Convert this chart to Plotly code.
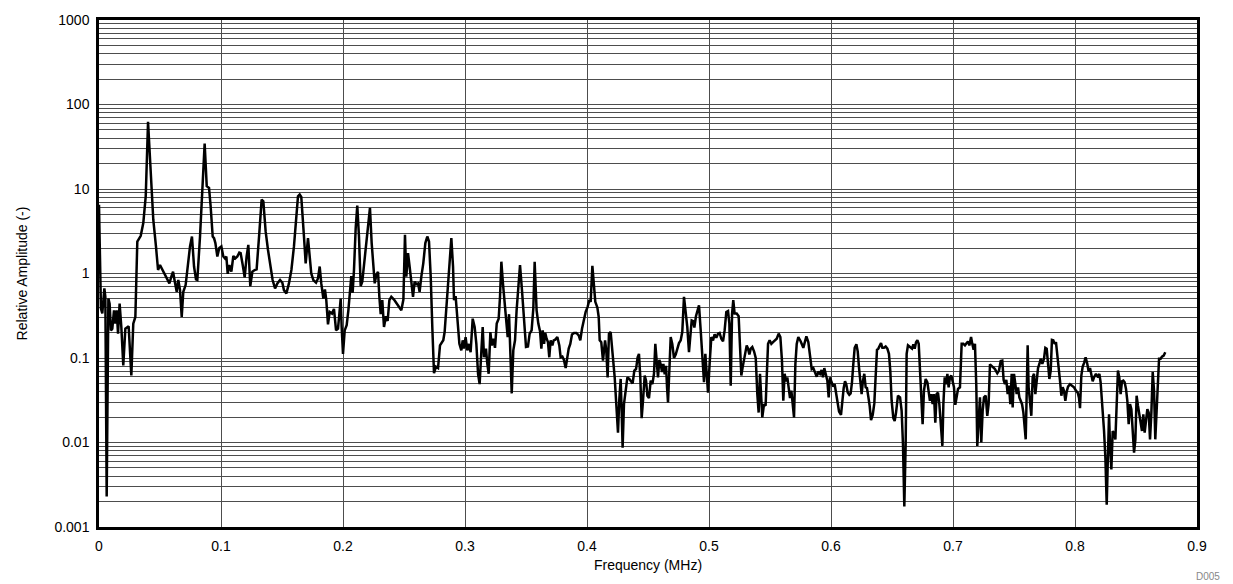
import plotly.graph_objects as go

# Frequency bins (MHz) and relative amplitude of the spectrum
freq_mhz = [
    0.0, 0.0016, 0.0027, 0.0044, 0.0052, 0.0063, 0.0077, 0.0087, 0.0098, 0.0109,
    0.0123, 0.0134, 0.0145, 0.0156, 0.0169, 0.0183, 0.0199, 0.0216, 0.0243, 0.0265,
    0.0281, 0.0298, 0.0314, 0.0342, 0.0363, 0.0383, 0.0402, 0.0423, 0.0445, 0.0467,
    0.0484, 0.0500, 0.0519, 0.0538, 0.0560, 0.0577, 0.0593, 0.0607, 0.0620, 0.0637,
    0.0650, 0.0664, 0.0678, 0.0691, 0.0710, 0.0730, 0.0746, 0.0762, 0.0779, 0.0795,
    0.0806, 0.0828, 0.0847, 0.0866, 0.0883, 0.0902, 0.0915, 0.0932, 0.0943, 0.0954,
    0.0970, 0.0986, 0.1003, 0.1019, 0.1033, 0.1044, 0.1055, 0.1068, 0.1085, 0.1101,
    0.1117, 0.1134, 0.1150, 0.1161, 0.1178, 0.1194, 0.1210, 0.1224, 0.1240, 0.1257,
    0.1276, 0.1292, 0.1314, 0.1333, 0.1347, 0.1366, 0.1385, 0.1407, 0.1423, 0.1443,
    0.1462, 0.1484, 0.1503, 0.1516, 0.1536, 0.1557, 0.1577, 0.1598, 0.1615, 0.1631,
    0.1645, 0.1658, 0.1680, 0.1694, 0.1713, 0.1727, 0.1740, 0.1757, 0.1779, 0.1795,
    0.1809, 0.1822, 0.1839, 0.1852, 0.1863, 0.1877, 0.1891, 0.1910, 0.1926, 0.1943,
    0.1959, 0.1970, 0.1981, 0.1989, 0.2000, 0.2014, 0.2030, 0.2044, 0.2057, 0.2068,
    0.2079, 0.2090, 0.2104, 0.2117, 0.2131, 0.2145, 0.2158, 0.2172, 0.2189, 0.2202,
    0.2221, 0.2235, 0.2246, 0.2260, 0.2273, 0.2287, 0.2298, 0.2309, 0.2322, 0.2336,
    0.2352, 0.2366, 0.2380, 0.2396, 0.2418, 0.2437, 0.2456, 0.2478, 0.2495, 0.2508,
    0.2519, 0.2533, 0.2546, 0.2560, 0.2574, 0.2587, 0.2601, 0.2615, 0.2628, 0.2642,
    0.2658, 0.2675, 0.2691, 0.2705, 0.2719, 0.2732, 0.2746, 0.2762, 0.2779, 0.2795,
    0.2809, 0.2822, 0.2833, 0.2850, 0.2869, 0.2888, 0.2902, 0.2910, 0.2923, 0.2937,
    0.2954, 0.2970, 0.2981, 0.2992, 0.3005, 0.3019, 0.3033, 0.3046, 0.3063, 0.3079,
    0.3093, 0.3107, 0.3120, 0.3134, 0.3145, 0.3156, 0.3172, 0.3183, 0.3194, 0.3208,
    0.3219, 0.3232, 0.3246, 0.3260, 0.3276, 0.3287, 0.3298, 0.3311, 0.3325, 0.3339,
    0.3350, 0.3361, 0.3372, 0.3383, 0.3396, 0.3410, 0.3423, 0.3437, 0.3451, 0.3467,
    0.3484, 0.3500, 0.3516, 0.3530, 0.3546, 0.3560, 0.3571, 0.3587, 0.3601, 0.3615,
    0.3626, 0.3637, 0.3648, 0.3658, 0.3669, 0.3680, 0.3691, 0.3702, 0.3716, 0.3727,
    0.3740, 0.3757, 0.3773, 0.3784, 0.3798, 0.3811, 0.3825, 0.3836, 0.3850, 0.3863,
    0.3877, 0.3893, 0.3913, 0.3932, 0.3945, 0.3959, 0.3975, 0.3989, 0.4005, 0.4019,
    0.4030, 0.4044, 0.4068, 0.4085, 0.4096, 0.4104, 0.4117, 0.4131, 0.4148, 0.4158,
    0.4169, 0.4180, 0.4194, 0.4208, 0.4227, 0.4240, 0.4254, 0.4265, 0.4276, 0.4284,
    0.4292, 0.4303, 0.4317, 0.4331, 0.4347, 0.4361, 0.4374, 0.4388, 0.4402, 0.4415,
    0.4426, 0.4437, 0.4448, 0.4459, 0.4473, 0.4484, 0.4495, 0.4508, 0.4522, 0.4536,
    0.4549, 0.4560, 0.4571, 0.4582, 0.4593, 0.4604, 0.4615, 0.4626, 0.4637, 0.4648,
    0.4656, 0.4664, 0.4675, 0.4686, 0.4699, 0.4713, 0.4727, 0.4740, 0.4754, 0.4768,
    0.4781, 0.4795, 0.4809, 0.4822, 0.4836, 0.4847, 0.4858, 0.4869, 0.4880, 0.4893,
    0.4910, 0.4918, 0.4932, 0.4945, 0.4959, 0.4970, 0.4981, 0.4992, 0.5005, 0.5019,
    0.5033, 0.5046, 0.5060, 0.5074, 0.5087, 0.5101, 0.5115, 0.5128, 0.5142, 0.5156,
    0.5167, 0.5178, 0.5189, 0.5199, 0.5210, 0.5227, 0.5243, 0.5254, 0.5265, 0.5276,
    0.5287, 0.5301, 0.5309, 0.5320, 0.5331, 0.5342, 0.5355, 0.5369, 0.5383, 0.5396,
    0.5407, 0.5418, 0.5429, 0.5437, 0.5451, 0.5464, 0.5473, 0.5484, 0.5497, 0.5511,
    0.5525, 0.5538, 0.5555, 0.5571, 0.5585, 0.5598, 0.5609, 0.5620, 0.5631, 0.5642,
    0.5653, 0.5664, 0.5675, 0.5686, 0.5697, 0.5708, 0.5719, 0.5732, 0.5751, 0.5773,
    0.5798, 0.5814, 0.5828, 0.5842, 0.5855, 0.5869, 0.5883, 0.5896, 0.5910, 0.5923,
    0.5934, 0.5945, 0.5959, 0.5970, 0.5981, 0.5992, 0.6005, 0.6019, 0.6030, 0.6041,
    0.6052, 0.6066, 0.6082, 0.6093, 0.6104, 0.6115, 0.6126, 0.6137, 0.6150, 0.6161,
    0.6172, 0.6183, 0.6194, 0.6208, 0.6219, 0.6230, 0.6240, 0.6251, 0.6262, 0.6273,
    0.6284, 0.6295, 0.6306, 0.6317, 0.6328, 0.6342, 0.6355, 0.6366, 0.6377, 0.6388,
    0.6399, 0.6410, 0.6421, 0.6434, 0.6448, 0.6462, 0.6475, 0.6486, 0.6497, 0.6511,
    0.6522, 0.6533, 0.6549, 0.6566, 0.6579, 0.6590, 0.6601, 0.6612, 0.6620, 0.6631,
    0.6648, 0.6664, 0.6675, 0.6686, 0.6697, 0.6708, 0.6719, 0.6730, 0.6740, 0.6751,
    0.6762, 0.6776, 0.6790, 0.6801, 0.6811, 0.6822, 0.6833, 0.6844, 0.6855, 0.6866,
    0.6877, 0.6888, 0.6899, 0.6913, 0.6921, 0.6932, 0.6943, 0.6954, 0.6964, 0.6975,
    0.6986, 0.6997, 0.7008, 0.7019, 0.7030, 0.7041, 0.7057, 0.7071, 0.7085, 0.7098,
    0.7112, 0.7123, 0.7134, 0.7148, 0.7158, 0.7169, 0.7180, 0.7191, 0.7199, 0.7210,
    0.7221, 0.7232, 0.7243, 0.7254, 0.7268, 0.7281, 0.7292, 0.7303, 0.7317, 0.7331,
    0.7344, 0.7363, 0.7377, 0.7391, 0.7404, 0.7415, 0.7426, 0.7437, 0.7448, 0.7459,
    0.7470, 0.7481, 0.7489, 0.7500, 0.7511, 0.7522, 0.7533, 0.7544, 0.7555, 0.7566,
    0.7577, 0.7587, 0.7596, 0.7604, 0.7612, 0.7620, 0.7631, 0.7642, 0.7653, 0.7664,
    0.7675, 0.7686, 0.7697, 0.7708, 0.7719, 0.7732, 0.7746, 0.7757, 0.7768, 0.7779,
    0.7790, 0.7801, 0.7811, 0.7822, 0.7833, 0.7844, 0.7855, 0.7866, 0.7877, 0.7888,
    0.7899, 0.7910, 0.7921, 0.7932, 0.7943, 0.7959, 0.7975, 0.7992, 0.8008, 0.8022,
    0.8033, 0.8041, 0.8052, 0.8063, 0.8074, 0.8087, 0.8101, 0.8112, 0.8123, 0.8134,
    0.8145, 0.8156, 0.8172, 0.8189, 0.8200, 0.8210, 0.8224, 0.8238, 0.8249, 0.8260,
    0.8268, 0.8279, 0.8287, 0.8298, 0.8309, 0.8320, 0.8331, 0.8342, 0.8352, 0.8363,
    0.8374, 0.8385, 0.8396, 0.8407, 0.8418, 0.8429, 0.8440, 0.8451, 0.8462, 0.8473,
    0.8484, 0.8495, 0.8505, 0.8516, 0.8527, 0.8538, 0.8549, 0.8560, 0.8571, 0.8582,
    0.8593, 0.8604, 0.8615, 0.8626, 0.8637, 0.8648, 0.8658, 0.8669, 0.8680, 0.8689,
    0.8702, 0.8713, 0.8727, 0.8740,
]

rel_amplitude = [
    6.5, 0.385, 0.336, 0.666, 0.53, 0.0023, 0.506, 0.44, 0.212, 0.222,
    0.367, 0.255, 0.367, 0.194, 0.44, 0.233, 0.0814, 0.222, 0.237, 0.062,
    0.255, 0.306, 2.39, 2.79, 3.95, 8.2, 62.5, 14.2, 4.33, 2.09,
    1.10, 1.26, 1.12, 1.0, 0.875, 0.764, 0.917, 1.05, 0.82, 0.608,
    0.837, 0.636, 0.306, 0.608, 0.73, 1.38, 2.09, 2.74, 1.21, 0.85,
    0.837, 2.74, 9.86, 34.5, 10.8, 10.3, 6.25, 2.74, 2.62, 2.29,
    1.59, 2.0, 2.09, 1.59, 1.51, 1.59, 0.99, 1.26, 1.05, 1.61,
    1.51, 1.59, 1.77, 1.74, 1.26, 0.9, 1.59, 2.18, 0.71, 1.05,
    1.10, 1.12, 3.01, 7.5, 7.16, 3.15, 1.91, 1.21, 0.837, 0.666,
    0.764, 0.837, 0.778, 0.636, 0.581, 0.764, 1.10, 2.09, 4.33, 8.2,
    8.6, 8.07, 2.74, 1.32, 2.62, 1.74, 1.0, 0.837, 0.778, 0.875,
    1.21, 0.764, 0.506, 0.648, 0.484, 0.25, 0.351, 0.336, 0.381, 0.212,
    0.222, 0.33, 0.506, 0.233, 0.112, 0.212, 0.244, 0.367, 0.636, 0.933,
    0.591, 1.10, 3.45, 6.36, 2.74, 0.71, 0.8, 1.26, 2.09, 3.0,
    5.97, 2.29, 1.23, 0.764, 0.96, 1.05, 0.53, 0.33, 0.484, 0.233,
    0.312, 0.274, 0.484, 0.53, 0.492, 0.45, 0.403, 0.367, 0.492, 2.87,
    0.917, 1.74, 1.21, 0.778, 0.53, 0.8, 0.75, 0.764, 0.608, 0.917,
    1.32, 2.29, 2.74, 2.39, 0.917, 0.233, 0.066, 0.079, 0.076, 0.141,
    0.154, 0.162, 0.203, 0.42, 1.21, 2.62, 1.21, 0.484, 0.54, 0.306,
    0.147, 0.123, 0.162, 0.129, 0.177, 0.123, 0.147, 0.117, 0.292, 0.233,
    0.147, 0.065, 0.049, 0.12, 0.233, 0.102, 0.129, 0.085, 0.065, 0.203,
    0.141, 0.169, 0.132, 0.255, 0.292, 0.53, 1.38, 0.764, 0.44, 0.244,
    0.177, 0.33, 0.135, 0.0381, 0.123, 0.162, 0.367, 0.8, 1.26, 0.636,
    0.306, 0.135, 0.137, 0.194, 0.212, 0.385, 1.38, 0.367, 0.255, 0.208,
    0.129, 0.212, 0.147, 0.198, 0.169, 0.154, 0.102, 0.162, 0.141, 0.162,
    0.165, 0.177, 0.141, 0.102, 0.104, 0.095, 0.076, 0.102, 0.129, 0.147,
    0.19, 0.198, 0.198, 0.185, 0.162, 0.222, 0.292, 0.351, 0.403, 0.484,
    0.462, 1.23, 0.462, 0.395, 0.306, 0.162, 0.154, 0.093, 0.162, 0.123,
    0.059, 0.194, 0.203, 0.123, 0.059, 0.0284, 0.0131, 0.0327, 0.0565, 0.0237,
    0.0087, 0.0284, 0.045, 0.059, 0.0565, 0.053, 0.05, 0.071, 0.074, 0.102,
    0.112, 0.059, 0.0194, 0.0312, 0.062, 0.054, 0.0358, 0.0336, 0.054, 0.049,
    0.065, 0.147, 0.078, 0.059, 0.095, 0.084, 0.068, 0.085, 0.064, 0.081,
    0.045, 0.0298, 0.071, 0.177, 0.147, 0.1, 0.11, 0.132, 0.15, 0.162,
    0.203, 0.53, 0.367, 0.233, 0.117, 0.212, 0.279, 0.274, 0.229, 0.312,
    0.403, 0.42, 0.212, 0.102, 0.0516, 0.112, 0.071, 0.039, 0.085, 0.177,
    0.162, 0.19, 0.174, 0.194, 0.198, 0.169, 0.158, 0.212, 0.351, 0.36,
    0.255, 0.047, 0.33, 0.484, 0.336, 0.336, 0.312, 0.162, 0.062, 0.078,
    0.093, 0.114, 0.141, 0.129, 0.11, 0.129, 0.135, 0.12, 0.1, 0.0374,
    0.0226, 0.065, 0.0312, 0.0198, 0.0284, 0.0272, 0.059, 0.147, 0.162, 0.147,
    0.154, 0.162, 0.169, 0.194, 0.177, 0.093, 0.0312, 0.065, 0.053, 0.059,
    0.041, 0.0336, 0.041, 0.0284, 0.0198, 0.085, 0.147, 0.177, 0.158, 0.132,
    0.18, 0.154, 0.098, 0.074, 0.076, 0.068, 0.06, 0.069, 0.065, 0.072,
    0.059, 0.076, 0.065, 0.054, 0.0342, 0.059, 0.0516, 0.0458, 0.049, 0.0374,
    0.0284, 0.0233, 0.0212, 0.0318, 0.0441, 0.053, 0.048, 0.039, 0.0367, 0.038,
    0.0516, 0.085, 0.132, 0.145, 0.12, 0.076, 0.049, 0.0374, 0.054, 0.065,
    0.045, 0.0441, 0.0348, 0.0272, 0.0184, 0.0212, 0.029, 0.059, 0.125, 0.129,
    0.137, 0.15, 0.132, 0.132, 0.137, 0.129, 0.112, 0.071, 0.0312, 0.0194,
    0.018, 0.0226, 0.0358, 0.0342, 0.0237, 0.0095, 0.00175, 0.0095, 0.112, 0.141,
    0.135, 0.129, 0.145, 0.129, 0.154, 0.162, 0.147, 0.065, 0.0312, 0.0165,
    0.041, 0.0565, 0.0516, 0.041, 0.0312, 0.0374, 0.0284, 0.0374, 0.0172, 0.0374,
    0.039, 0.0284, 0.018, 0.0091, 0.0284, 0.059, 0.049, 0.065, 0.045, 0.059,
    0.062, 0.054, 0.045, 0.0279, 0.0342, 0.043, 0.045, 0.147, 0.147, 0.141,
    0.15, 0.157, 0.141, 0.177, 0.147, 0.125, 0.147, 0.047, 0.0091, 0.0198,
    0.0342, 0.01, 0.0237, 0.0342, 0.0358, 0.0207, 0.0284, 0.084, 0.081, 0.078,
    0.074, 0.066, 0.071, 0.092, 0.093, 0.055, 0.049, 0.055, 0.0374, 0.047,
    0.0284, 0.065, 0.026, 0.065, 0.049, 0.0374, 0.045, 0.0342, 0.0312, 0.0284,
    0.0226, 0.0137, 0.0109, 0.0374, 0.141, 0.045, 0.0284, 0.0207, 0.059, 0.065,
    0.0374, 0.059, 0.076, 0.085, 0.098, 0.085, 0.098, 0.132, 0.129, 0.085,
    0.0565, 0.071, 0.164, 0.162, 0.147, 0.154, 0.112, 0.085, 0.054, 0.0358,
    0.045, 0.041, 0.0312, 0.04, 0.0458, 0.049, 0.047, 0.045, 0.041, 0.039,
    0.0336, 0.0255, 0.062, 0.079, 0.087, 0.102, 0.085, 0.069, 0.076, 0.062,
    0.053, 0.059, 0.065, 0.059, 0.065, 0.0516, 0.0284, 0.0137, 0.0066, 0.00184,
    0.0055, 0.0216, 0.0095, 0.0048, 0.0137, 0.0127, 0.0109, 0.026, 0.071, 0.059,
    0.0374, 0.053, 0.054, 0.0516, 0.043, 0.0312, 0.0165, 0.0284, 0.0248, 0.0137,
    0.0076, 0.0109, 0.0358, 0.0272, 0.0207, 0.0172, 0.0137, 0.0216, 0.0131, 0.018,
    0.0248, 0.0226, 0.0109, 0.0226, 0.068, 0.041, 0.0109, 0.0237, 0.065, 0.098,
    0.098, 0.104, 0.107, 0.117,
]

# Axis ticks
x_tick_vals = [0.0, 0.1, 0.2, 0.3, 0.4, 0.5, 0.6, 0.7, 0.8, 0.9]
x_tick_text = ["0", "0.1", "0.2", "0.3", "0.4", "0.5", "0.6", "0.7", "0.8", "0.9"]
y_decades = [0.001, 0.01, 0.1, 1, 10, 100, 1000]
y_decade_text = ["0.001", "0.01", "0.1", "1", "10", "100", "1000"]

# Log grid: every 1..9 multiple inside each decade, labels only on decades
y_tick_vals = []
y_tick_text = []
for d, label in zip(y_decades[:-1], y_decade_text[:-1]):
    for m in range(1, 10):
        y_tick_vals.append(d * m)
        y_tick_text.append(label if m == 1 else "")
y_tick_vals.append(y_decades[-1])
y_tick_text.append(y_decade_text[-1])

font_family = "Liberation Sans, Arial, sans-serif"

fig = go.Figure(
    go.Scatter(
        x=freq_mhz,
        y=rel_amplitude,
        mode="lines",
        line=dict(color="black", width=2.5),
        hoverinfo="x+y",
    )
)

fig.update_layout(
    width=1233,
    height=584,
    margin=dict(l=99, r=36, t=20, b=57),
    paper_bgcolor="white",
    plot_bgcolor="white",
    showlegend=False,
    font=dict(family=font_family, size=14, color="black"),
    annotations=[
        dict(
            text="D005",
            xref="paper",
            yref="paper",
            x=1.0228,
            y=-0.097,
            xanchor="right",
            yanchor="middle",
            showarrow=False,
            font=dict(size=10, color="#888888", family=font_family),
        )
    ],
)

fig.update_xaxes(
    range=[0, 0.9],
    tickvals=x_tick_vals,
    ticktext=x_tick_text,
    ticks="",
    ticklabelstandoff=4,
    showgrid=True,
    gridcolor="#4d4d4d",
    gridwidth=1,
    zeroline=False,
    showline=True,
    linecolor="black",
    linewidth=2.5,
    mirror=True,
    tickfont=dict(size=14),
    title=dict(text="Frequency (MHz)", font=dict(size=14), standoff=8),
)

fig.update_yaxes(
    type="log",
    range=[-3, 3],
    tickvals=y_tick_vals,
    ticktext=y_tick_text,
    ticks="",
    ticklabelstandoff=4,
    showgrid=True,
    gridcolor="#4d4d4d",
    gridwidth=1,
    zeroline=False,
    showline=True,
    linecolor="black",
    linewidth=2.5,
    mirror=True,
    tickfont=dict(size=14),
    title=dict(text="Relative Amplitude (-)", font=dict(size=14), standoff=24),
)

fig.write_html("out.html")
